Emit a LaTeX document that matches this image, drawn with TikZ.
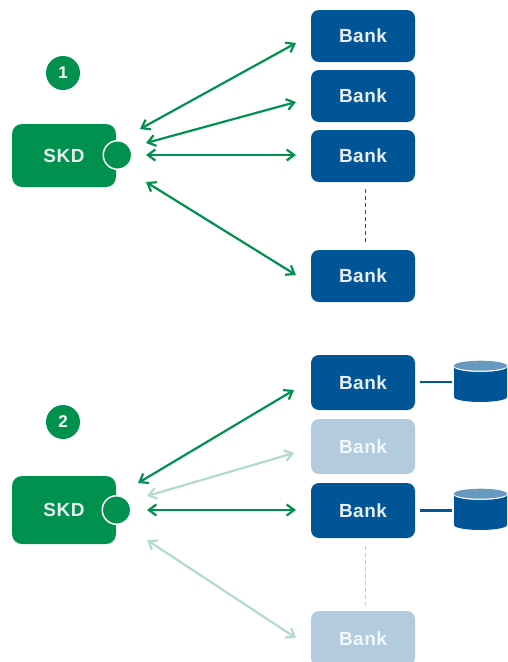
\documentclass[tikz,border=0pt]{standalone}
\usepackage{fontspec}
\setmainfont{Liberation Sans}
\newfontfamily\lblfont[LetterSpace=2.5]{Liberation Sans}
\usetikzlibrary{arrows.meta}
\definecolor{gr}{HTML}{00914F}
\definecolor{grl}{HTML}{B2DCC8}
\definecolor{bl}{HTML}{005596}
\definecolor{bll}{HTML}{B2CBDF}
\definecolor{txl}{HTML}{E8EEF2}
\tikzset{
 x=1pt,y=-1pt,
 bankbox/.style={draw=none,fill=bl,rounded corners=8pt,minimum width=104pt,text=txl,font=\lblfont\bfseries\fontsize{19}{19}\selectfont,inner sep=0pt},
 bankfaded/.style={bankbox,fill=bll,text=white!85!bll},
 skdbox/.style={draw=none,fill=gr,rounded corners=10pt,minimum width=104pt,text=txl,font=\lblfont\bfseries\fontsize{19}{19}\selectfont,inner sep=0pt},
 port/.style={circle,fill=gr,draw=white,line width=1.5pt,minimum size=28.5pt,inner sep=0pt},
 badge/.style={circle,fill=gr,minimum size=34pt,inner sep=0pt,text=white,font=\bfseries\fontsize{17}{17}\selectfont},
 link/.style={draw=gr,line width=2.2pt,{Straight Barb[length=7.5pt,width=11pt,line width=2.2pt]}-{Straight Barb[length=7.5pt,width=11pt,line width=2.2pt]}},
 linkfaded/.style={link,draw=grl},
 dots/.style={draw=bl,line width=0.9pt,dash pattern=on 4pt off 3pt},
 dotsfaded/.style={dots,draw=bll},
 dbline/.style={draw=bl,line width=2.8pt},
 dbbody/.style={fill=bl,draw=none},
 dbtop/.style={fill=bl!60!white,draw=none},
}
\newcommand{\dbcyl}[1]{%
 \fill[dbbody] (454,#1+1) -- (454,#1+31) arc[start angle=180,end angle=360,x radius=26.5,y radius=-5] -- (507,#1+1) arc[start angle=360,end angle=180,x radius=26.5,y radius=-5] -- cycle;
 \fill[dbtop] (480.5,#1-0.3) ellipse[x radius=26.5,y radius=5];}
\begin{document}
\begin{tikzpicture}
\useasboundingbox (0,0) rectangle (507,662);
% panel 1
\node[badge] (b1) at (63,73) {1};
\node[skdbox,minimum height=63pt] (skd1) at (64,155.5) {SKD};
\node[port] (p1) at (117.5,155) {};
\node[bankbox,minimum height=52pt] (a1) at (363,36) {Bank};
\node[bankbox,minimum height=52pt] (a2) at (363,96) {Bank};
\node[bankbox,minimum height=52pt] (a3) at (363,156) {Bank};
\node[bankbox,minimum height=52pt] (a4) at (363,276) {Bank};
\coordinate (l1) at (140,129); \coordinate (r1) at (296,43);
\coordinate (l2) at (146,143); \coordinate (r2) at (296,102);
\coordinate (l3) at (146,155); \coordinate (r3) at (296,155);
\coordinate (l4) at (146,182); \coordinate (r4) at (296,275);
\draw[link] (l1) -- (r1);
\draw[link] (l2) -- (r2);
\draw[link] (l3) -- (r3);
\draw[link] (l4) -- (r4);
\coordinate (d1) at (365,189); \coordinate (d2) at (365,243);
\draw[dots] (d1) -- (d2);
% panel 2
\node[badge] (b2) at (63,422) {2};
\node[skdbox,minimum height=68pt] (skd2) at (64,510) {SKD};
\node[port] (p2) at (116.5,510) {};
\node[bankbox,minimum height=55pt] (c1) at (363,382.5) {Bank};
\node[bankfaded,minimum height=55pt] (c2) at (363,446.5) {Bank};
\node[bankbox,minimum height=55pt] (c3) at (363,510.5) {Bank};
\node[bankfaded,minimum height=55pt] (c4) at (363,638.5) {Bank};
\coordinate (m1) at (138,483); \coordinate (s1) at (294,390);
\coordinate (m2) at (147,496); \coordinate (s2) at (294,453);
\coordinate (m3) at (147,510); \coordinate (s3) at (296,510);
\coordinate (m4) at (147,540); \coordinate (s4) at (296,638);
\draw[linkfaded] (m2) -- (s2);
\draw[linkfaded] (m4) -- (s4);
\draw[link] (m1) -- (s1);
\draw[link] (m3) -- (s3);
\coordinate (e1) at (365,546); \coordinate (e2) at (365,605);
\draw[dotsfaded] (e1) -- (e2);
% databases
\coordinate (q1) at (420,382); \coordinate (q2) at (452,382);
\draw[dbline] (q1) -- (q2);
\dbcyl{366}
\coordinate (q3) at (420,510.5); \coordinate (q4) at (452,510.5);
\draw[dbline] (q3) -- (q4);
\dbcyl{494}
\end{tikzpicture}
\end{document}
